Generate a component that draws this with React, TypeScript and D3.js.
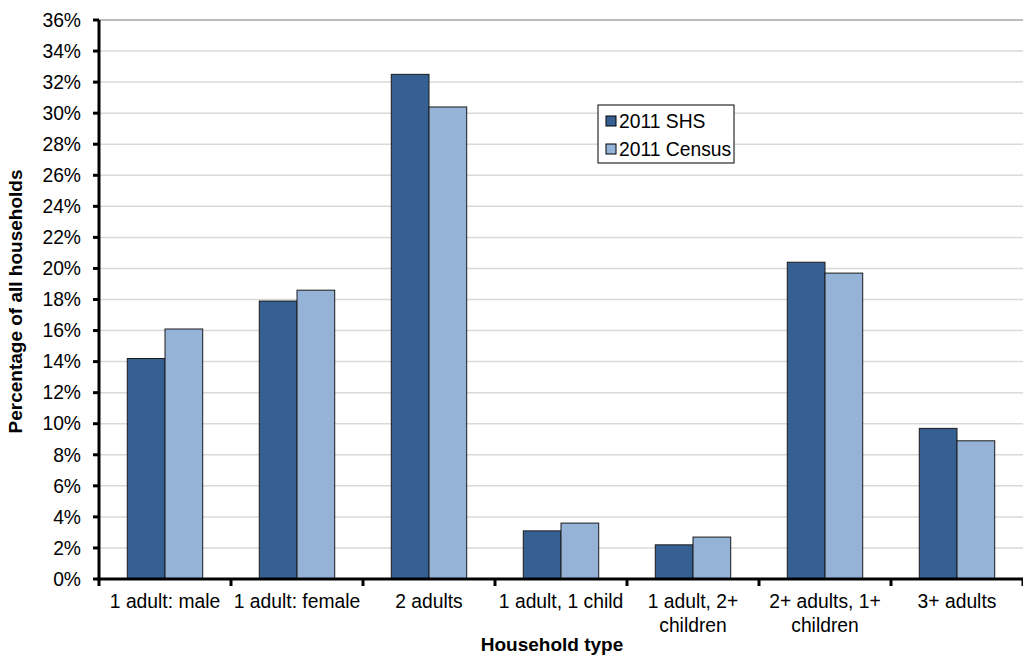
import { useEffect, useRef } from 'react'
import * as d3 from 'd3'

const categories = [
  ['1 adult: male'],
  ['1 adult: female'],
  ['2 adults'],
  ['1 adult, 1 child'],
  ['1 adult, 2+', 'children'],
  ['2+ adults, 1+', 'children'],
  ['3+ adults'],
]
const seriesNames = ['2011 SHS', '2011 Census']
const shs = [14.2, 17.9, 32.5, 3.1, 2.2, 20.4, 9.7]
const census = [16.1, 18.6, 30.4, 3.6, 2.7, 19.7, 8.9]
const yTicks = d3.range(0, 37, 2)

const W = 1023
const H = 655
const M = { top: 20, right: 0, bottom: 76, left: 99 }
const COLORS = ['#376092', '#95B3D7']
const FONT = '"Liberation Sans", Arial, sans-serif'
const FS = 19.3

export default function App() {
  const ref = useRef<SVGSVGElement>(null)

  useEffect(() => {
    if (!ref.current) return
    const svg = d3.select(ref.current)
    svg.selectAll('*').remove()

    const innerW = W - M.left - M.right
    const innerH = H - M.top - M.bottom
    const g = svg.append('g').attr('transform', `translate(${M.left},${M.top})`)

    const x = d3.scaleBand<number>().domain(d3.range(categories.length)).range([0, innerW])
    const barW = x.bandwidth() / 3.5
    const y = d3.scaleLinear().domain([0, 36]).range([innerH, 0])

    // gridlines
    g.selectAll('.grid').data(yTicks.filter(t => t > 0)).join('line')
      .attr('x1', 0).attr('x2', innerW)
      .attr('y1', d => y(d)).attr('y2', d => y(d))
      .attr('stroke', d => (d === 36 ? '#a6a6a6' : '#d9d9d9')).attr('stroke-width', 1.5)

    // bars
    const series = [shs, census]
    series.forEach((vals, si) => {
      g.selectAll(`.bar-${si}`).data(vals).join('rect')
        .attr('x', (_, i) => x(i)! + x.bandwidth() / 2 - barW + si * barW)
        .attr('y', d => y(d))
        .attr('width', barW)
        .attr('height', d => innerH - y(d))
        .attr('fill', COLORS[si])
        .attr('stroke', '#1a1a1a').attr('stroke-width', 1)
    })

    // y axis
    g.append('line').attr('x1', 0).attr('x2', 0).attr('y1', 0).attr('y2', innerH + 1.5)
      .attr('stroke', '#000').attr('stroke-width', 3)
    g.selectAll('.ytick').data(yTicks).join('line')
      .attr('x1', -6).attr('x2', 0).attr('y1', d => y(d)).attr('y2', d => y(d))
      .attr('stroke', '#000').attr('stroke-width', 3)
    g.selectAll('.ylab').data(yTicks).join('text')
      .attr('x', -18).attr('y', d => y(d)).attr('dy', '0.35em')
      .attr('text-anchor', 'end').attr('font-family', FONT).attr('font-size', FS).attr('fill', '#000')
      .text(d => `${d}%`)

    // x axis
    g.append('line').attr('x1', -1.5).attr('x2', innerW).attr('y1', innerH).attr('y2', innerH)
      .attr('stroke', '#000').attr('stroke-width', 3)
    g.selectAll('.xtick').data(d3.range(categories.length + 1)).join('line')
      .attr('x1', d => d * x.step()).attr('x2', d => d * x.step())
      .attr('y1', innerH).attr('y2', innerH + 7)
      .attr('stroke', '#000').attr('stroke-width', 3)
    categories.forEach((lines, i) => {
      const t = g.append('text')
        .attr('x', x(i)! + x.bandwidth() / 2).attr('y', innerH + 29)
        .attr('text-anchor', 'middle').attr('font-family', FONT).attr('font-size', FS).attr('fill', '#000')
      lines.forEach((ln, li) => {
        t.append('tspan').attr('x', x(i)! + x.bandwidth() / 2).attr('dy', li === 0 ? 0 : 24).text(ln)
      })
    })

    // axis titles
    svg.append('text')
      .attr('x', 552).attr('y', 651)
      .attr('text-anchor', 'middle').attr('font-family', FONT).attr('font-size', 19)
      .attr('font-weight', 'bold').text('Household type')
    svg.append('text')
      .attr('transform', `translate(22,${M.top + innerH / 2 + 2}) rotate(-90)`)
      .attr('text-anchor', 'middle').attr('font-family', FONT).attr('font-size', 19)
      .attr('font-weight', 'bold').text('Percentage of all households')

    // legend
    const lg = svg.append('g').attr('transform', 'translate(598,105)')
    lg.append('rect').attr('width', 136).attr('height', 58)
      .attr('fill', '#fff').attr('stroke', '#000').attr('stroke-width', 1)
    seriesNames.forEach((name, i) => {
      const cy = 16 + i * 28
      lg.append('rect').attr('x', 8).attr('y', cy - 5).attr('width', 10).attr('height', 10)
        .attr('fill', COLORS[i]).attr('stroke', '#000').attr('stroke-width', 1)
      lg.append('text').attr('x', 21).attr('y', cy).attr('dy', '0.35em')
        .attr('font-family', FONT).attr('font-size', FS).attr('fill', '#000').text(name)
    })
  }, [])

  return (
    <svg ref={ref} width={W} height={H}
      style={{ position: 'absolute', left: 0, top: 0, display: 'block', background: '#fff' }} />
  )
}
